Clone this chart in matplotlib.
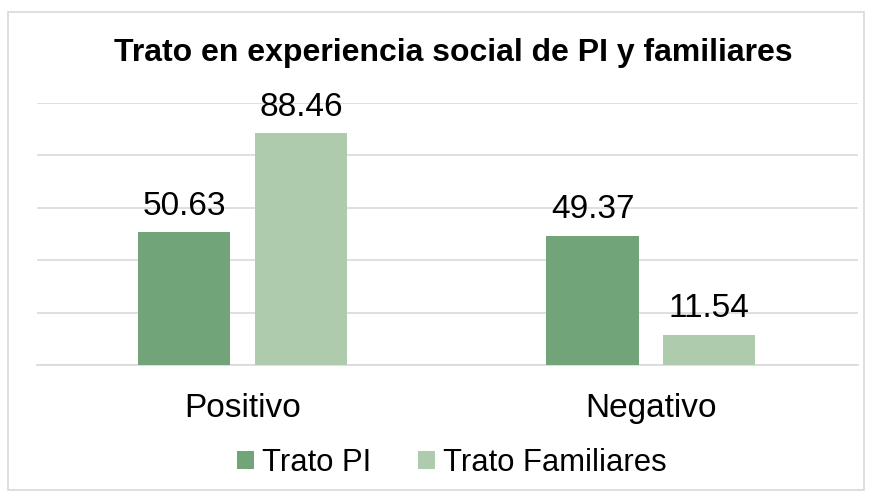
import matplotlib
matplotlib.use("Agg")
import numpy as np
import matplotlib.pyplot as plt

categorias = ["Positivo", "Negativo"]
trato_pi = [50.63, 49.37]
trato_familiares = [88.46, 11.54]
series = ["Trato PI", "Trato Familiares"]

color_pi = "#71A478"
color_fam = "#AECBAE"

plt.rcParams['font.family'] = ['Liberation Sans', 'DejaVu Sans']

fig = plt.figure(figsize=(8.72, 5.0), dpi=100)
ax = fig.add_axes([37 / 872, 1 - 365 / 500, (858 - 37) / 872, (365 - 103) / 500])

x = np.arange(len(categorias))
ancho = 0.226
desp = 0.143

b1 = ax.bar(x - desp, trato_pi, ancho, color=color_pi, label=series[0], zorder=3)
b2 = ax.bar(x + desp, trato_familiares, ancho, color=color_fam, label=series[1], zorder=3)

for barras in (b1, b2):
    for b in barras:
        ax.text(b.get_x() + b.get_width() / 2, b.get_height() + 4, f"{b.get_height():.2f}",
                ha='center', va='bottom', fontsize=24, color='black')

ax.set_ylim(0, 100)
ax.set_xlim(-0.503, 1.507)
ax.set_yticks(np.arange(0, 101, 20))
ax.set_yticklabels([])
ax.tick_params(axis='y', length=0)
ax.tick_params(axis='x', length=0, labelsize=24, pad=20)
ax.set_xticks(x)
ax.set_xticklabels(categorias)
ax.grid(axis='y', color='#D9D9D9', linewidth=1.2, zorder=0)
for s in ['top', 'right', 'left']:
    ax.spines[s].set_visible(False)
ax.spines['bottom'].set_color('#D9D9D9')
ax.spines['bottom'].set_linewidth(1.2)

fig.text(0.52, 1 - 53 / 500, "Trato en experiencia social de PI y familiares",
         ha='center', va='center', fontsize=23, fontweight='bold')

fig.legend(loc='center', bbox_to_anchor=(0.518, 1 - 463 / 500), ncol=2, frameon=False,
           fontsize=22.3, handlelength=0.55, handleheight=0.55, handletextpad=0.25,
           columnspacing=1.5, borderpad=0)

borde = plt.Rectangle((8 / 872, 1 - 490 / 500), (864 - 8) / 872, (490 - 12) / 500,
                      transform=fig.transFigure, fill=False, edgecolor='#D9D9D9', linewidth=1.2)
fig.patches.append(borde)

fig.savefig("out.png", dpi=100)
